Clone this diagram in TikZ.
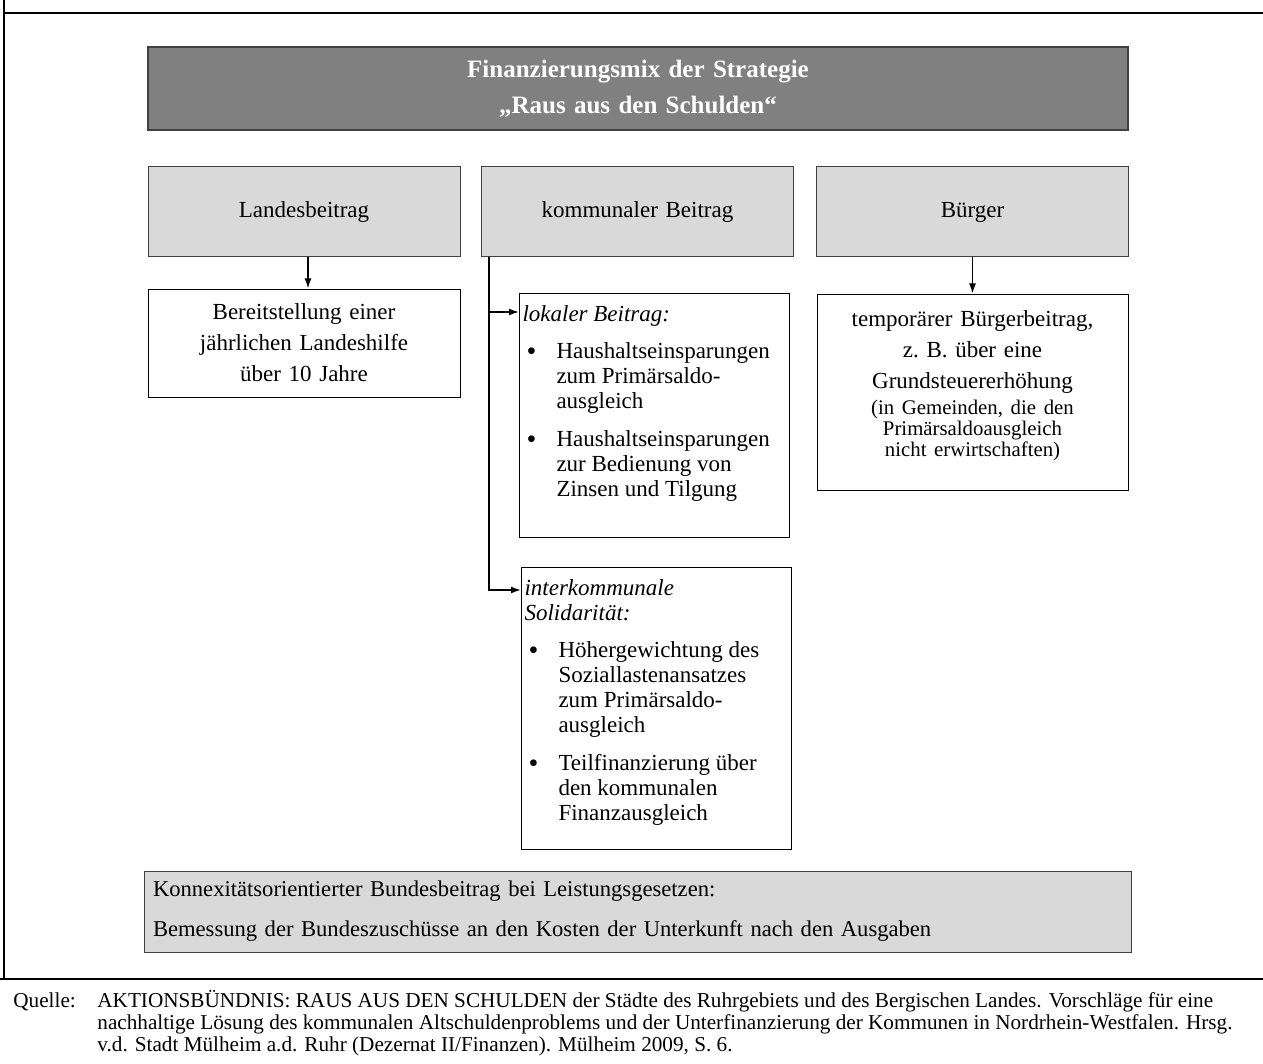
\documentclass[tikz,border=0pt]{standalone}
\usepackage{fontspec}
\setmainfont{Liberation Serif}
\usetikzlibrary{arrows.meta}
\definecolor{kopfgrau}{HTML}{808080}
\definecolor{randgrau}{HTML}{404040}
\definecolor{feldgrau}{HTML}{D9D9D9}
\newcommand{\pkt}[1]{\par\vspace{6.25pt}\noindent\hangindent=18.5pt\hangafter=1\hspace*{3.5pt}\makebox[15pt][l]{\raisebox{-0.8pt}{\fontsize{14pt}{12.5pt}\selectfont\textbullet}}#1\par}

\begin{document}
\begin{tikzpicture}[x=0.5pt,y=0.5pt]
    \tikzstyle{every node}+=[inner sep=0pt]
    \tikzstyle{kopf}=[draw=randgrau, line width=1pt, fill=kopfgrau, text=white, font=\fontsize{12.5pt}{18pt}\selectfont\bfseries, text width=490pt, minimum height=41.5pt, align=center]
    \tikzstyle{saeule}=[draw=randgrau, line width=0.5pt, fill=feldgrau, font=\fontsize{11.5pt}{15.5pt}\selectfont, text width=156pt, minimum height=45pt, align=center]
    \tikzstyle{inhalt}=[draw=black, line width=0.5pt, font=\fontsize{11.5pt}{15.5pt}\selectfont, text width=156pt, align=center]
    \tikzstyle{liste}=[draw=black, line width=0.5pt, anchor=north west, font=\fontsize{11.5pt}{12.5pt}\selectfont]
    \tikzstyle{pfeil}=[-{Latex[length=5pt,width=3.5pt]}, line width=0.75pt]
    \useasboundingbox (0,0) rectangle (1263,-1064);
    \draw [line width=0.75pt] (4,0) -- (4,-979);
    \draw [line width=0.75pt] (4,-13) -- (1263,-13);
    \draw [line width=0.75pt] (0,-979) -- (1263,-979);
    \node [kopf] (titel) at (638,-88.5) {Finanzierungsmix der Strategie\\„Raus aus den Schulden“};
    \node [saeule] (land) at (304,-212) {Landesbeitrag};
    \node [saeule] (kommune) at (637.5,-212) {kommunaler Beitrag};
    \node [saeule] (buerger) at (972.5,-212) {Bürger};
    \node [inhalt, minimum height=54pt] (hilfe) at (304,-343) {Bereitstellung einer\\jährlichen Landeshilfe\\über 10 Jahre};
    \node [inhalt, text width=155.5pt, minimum height=98pt] (beitrag) at (972.5,-392) {temporärer Bürgerbeitrag,\\z.\ B. über eine\\Grundsteuererhöhung\\[2.5pt]\fontsize{10.4pt}{10.5pt}\selectfont (in Gemeinden, die den\\Primärsaldoausgleich\\nicht erwirtschaften)\par\vspace{6pt}\hrule height 0pt};
    \node [liste] (lokal) at (519,-293) {\begin{minipage}[t][122pt][t]{135pt}\vspace{6pt}\noindent\hspace*{1.5pt}\textit{lokaler Beitrag:}
        \pkt{Haushaltseinsparungen\\zum Primärsaldo-\\ausgleich}
        \pkt{Haushaltseinsparungen\\zur Bedienung von\\Zinsen und Tilgung}
        \end{minipage}};
    \node [liste] (inter) at (521,-567) {\begin{minipage}[t][141pt][t]{135pt}\vspace{6pt}\noindent\hspace*{1.5pt}\textit{interkommunale\\\hspace*{1.5pt}Solidarität:}
        \pkt{Höhergewichtung des\\Soziallastenansatzes\\zum Primärsaldo-\\ausgleich}
        \pkt{Teilfinanzierung über\\den kommunalen\\Finanzausgleich}
        \end{minipage}};
    \node [draw=randgrau, line width=0.5pt, fill=feldgrau, font=\fontsize{11.3pt}{20pt}\selectfont, inner xsep=4.5pt, text width=484.5pt, minimum height=40.5pt, align=left] (bund) at (637.5,-911.5) {Konnexitätsorientierter Bundesbeitrag bei Leistungsgesetzen:\\Bemessung der Bundeszuschüsse an den Kosten der Unterkunft nach den Ausgaben};
    \node [anchor=north west, font=\fontsize{10.6pt}{11pt}\selectfont] (quelle) at (13,-990) {\begin{tabular}{@{}p{42pt}@{}l@{}}
        Quelle: & AKTIONSBÜNDNIS: RAUS AUS DEN SCHULDEN der Städte des Ruhrgebiets und des Bergischen Landes. Vorschläge für eine\\
        & nachhaltige Lösung des kommunalen Altschuldenproblems und der Unterfinanzierung der Kommunen in Nordrhein-Westfalen. Hrsg.\\
        & v.d. Stadt Mülheim a.d. Ruhr (Dezernat II/Finanzen). Mülheim 2009, S. 6.
        \end{tabular}};
    \coordinate (stamm) at ([xshift=4pt]kommune.south west);
    \coordinate (lokalein) at ([yshift=-9.5pt]lokal.north west);
    \coordinate (interein) at ([yshift=-11.5pt]inter.north west);
    \draw [pfeil] ([xshift=2pt]land.south) -- ([xshift=2pt]hilfe.north);
    \draw [pfeil] (buerger) -- (beitrag);
    \draw [pfeil] (stamm) |- (interein);
    \draw [pfeil] (stamm |- lokalein) -- (lokalein);
\end{tikzpicture}
\end{document}
